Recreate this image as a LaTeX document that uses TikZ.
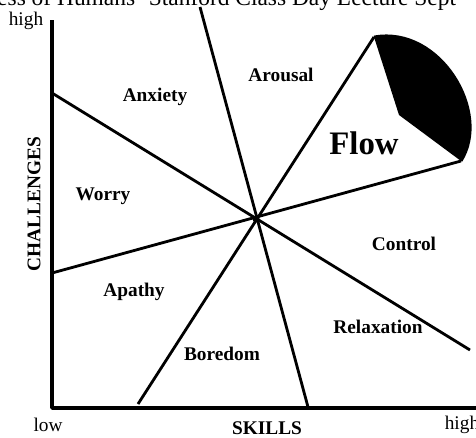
\documentclass[tikz,border=0pt]{standalone}
\usepackage{fontspec}
\setmainfont{Liberation Serif}
\usepackage{tikz}

\tikzset{
    region/.style={font=\fontsize{16.5}{18}\selectfont\bfseries},
    axisend/.style={font=\fontsize{16.5}{18}\selectfont},
    border/.style={line width=2.9pt},
    divider/.style={line width=2.4pt}
}

\begin{document}
\begin{tikzpicture}[x=0.3mm, y=-0.3mm]
    \useasboundingbox (0,0) rectangle (476,437);
    \clip (0,0) rectangle (476,437);

    % cut-off caption above the chart
    \node[anchor=base west, font=\fontsize{20}{22}\selectfont, inner sep=0pt] (caption) at (-3,5) {ess of Humans' Stanford Class Day Lecture Sept};

    % axes
    \coordinate (top) at (52,20);
    \coordinate (origin) at (52,408);
    \coordinate (right) at (476,408);
    \draw[border, line join=round] (top) -- (origin) -- (right);

    % centre and ends of the dividing lines
    \coordinate (c) at (256,219);
    \coordinate (a1) at (200,7);
    \coordinate (a2) at (308,407);
    \coordinate (b1) at (52,93);
    \coordinate (b2) at (470,350);
    \coordinate (d1) at (52,273);
    \coordinate (d2) at (461,161);
    \coordinate (e1) at (138,404);
    \coordinate (e2) at (374,37);
    \coordinate (notch) at (399,115);

    % flow sector
    \fill (e2) .. controls (440,25) and (492,112) .. (d2) -- (notch) -- cycle;
    \draw[divider] (e2) .. controls (440,25) and (492,112) .. (d2);

    \draw[divider] (a1) -- (a2);
    \draw[divider] (b1) -- (b2);
    \draw[divider] (d1) -- (d2);
    \draw[divider] (e1) -- (e2);
    \fill (c) circle (3.5);

    % regions
    \node[region] (anxiety) at (155,97) {Anxiety};
    \node[region] (arousal) at (281,75) {Arousal};
    \node[font=\fontsize{28}{30}\selectfont\bfseries] (flow) at (364,143) {Flow};
    \node[region] (worry) at (103,196) {Worry};
    \node[region] (control) at (404,244) {Control};
    \node[region] (apathy) at (134,292) {Apathy};
    \node[region] (relax) at (378,327) {Relaxation};
    \node[region] (boredom) at (222,354) {Boredom};

    % axis labels
    \node[axisend] (chigh) at (26,21) {high};
    \node[axisend] (low) at (48,425) {low};
    \node[axisend] (shigh) at (462,425) {high};
    \node[region] (skills) at (267,428) {SKILLS};
    \node[region, rotate=90] (chal) at (34,204) {CHALLENGES};
\end{tikzpicture}
\end{document}
